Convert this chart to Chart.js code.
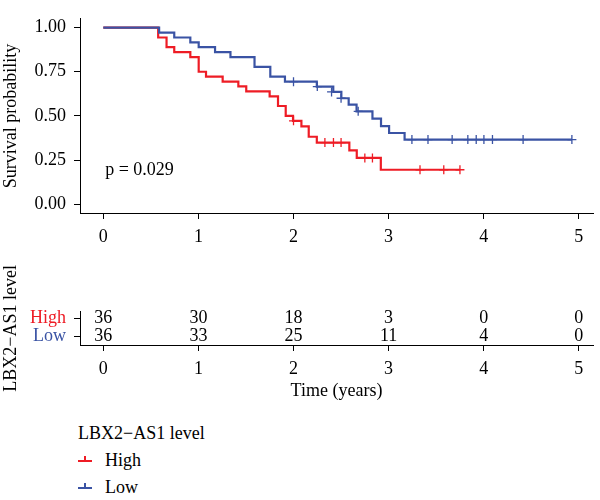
<!DOCTYPE html>
<html>
<head>
<meta charset="utf-8">
<script src="https://cdn.jsdelivr.net/npm/chart.js@4.4.1/dist/chart.umd.min.js"></script>
<style>
  html, body { margin: 0; padding: 0; background: #fff; }
  #wrap { position: relative; width: 600px; height: 500px; overflow: hidden; background: #fff;
          font-family: 'Liberation Serif', 'DejaVu Serif', serif; color: #000; }
  #c1 { position: absolute; left: 0; top: 0; }
  #c2 { position: absolute; left: 0; top: 245px; }
  .lg { position: absolute; font-size: 18px; line-height: 22px; white-space: nowrap; }
  .key { position: absolute; }
</style>
</head>
<body>
<div id="wrap">
  <canvas id="c1" width="600" height="250" style="width:600px;height:250px"></canvas>
  <canvas id="c2" width="600" height="170" style="width:600px;height:170px"></canvas>
  <div id="legend"></div>
</div>
<script>
// ---------------- data ----------------
const groupNames = ["High", "Low"];
const legendTitle = "LBX2−AS1 level";
const pValueText = "p = 0.029";

// Kaplan–Meier steps: time (years) and survival after that time
const lowTimes  = [0, 0.587, 0.746, 0.915, 1.003, 1.175, 1.337, 1.59, 1.756, 1.91, 2.245, 2.418, 2.503, 2.58, 2.663, 2.83, 2.92, 3.005, 3.168, 4.927];
const lowSurv   = [1, 0.972, 0.944, 0.917, 0.889, 0.861, 0.833, 0.778, 0.722, 0.694, 0.666, 0.636, 0.600, 0.564, 0.526, 0.484, 0.442, 0.403, 0.366, 0.366];
const highTimes = [0, 0.577, 0.665, 0.746, 0.915, 1.003, 1.08, 1.255, 1.42, 1.503, 1.749, 1.837, 1.918, 1.995, 2.083, 2.16, 2.245, 2.587, 2.665, 2.918, 3.75];
const highSurv  = [1, 0.944, 0.889, 0.861, 0.833, 0.75, 0.722, 0.694, 0.667, 0.639, 0.611, 0.556, 0.50, 0.472, 0.441, 0.382, 0.349, 0.305, 0.262, 0.195, 0.195];

// censoring marks
const lowCensorTimes  = [2.0, 2.25, 2.40, 2.50, 2.68, 3.245, 3.414, 3.668, 3.833, 3.921, 4.002, 4.092, 4.414, 4.927];
const lowCensorSurv   = [0.694, 0.666, 0.636, 0.600, 0.526, 0.366, 0.366, 0.366, 0.366, 0.366, 0.366, 0.366, 0.366, 0.366];
const highCensorTimes = [2.0, 2.33, 2.42, 2.50, 2.75, 2.83, 3.33, 3.58, 3.75];
const highCensorSurv  = [0.472, 0.349, 0.349, 0.349, 0.262, 0.262, 0.195, 0.195, 0.195];

// risk table
const riskTimes = [0, 1, 2, 3, 4, 5];
const riskHigh  = [36, 30, 18, 3, 0, 0];
const riskLow   = [36, 33, 25, 11, 4, 0];

// ticks
const xTickValues = [0, 1, 2, 3, 4, 5];
const xTickLabels = ["0", "1", "2", "3", "4", "5"];
const yTickValues = [0, 0.25, 0.5, 0.75, 1];
const yTickLabels = ["0.00", "0.25", "0.50", "0.75", "1.00"];

// ---------------- styling ----------------
const RED = '#EE1C25';
const BLUE = '#3A53A4';
const FONT = "'Liberation Serif', 'DejaVu Serif', serif";
const FS = 18;
Chart.defaults.font.family = FONT;
Chart.defaults.font.size = FS;
Chart.defaults.color = '#000';

const X_MIN = -0.245, X_MAX = 5.149;
const pValuePos = { x: 0.02, y: 0.19 };

const toXY = (xs, ys) => xs.map((x, i) => ({ x: x, y: ys[i] }));

const xScale = (heightPx, withTitle) => ({
  type: 'linear', min: X_MIN, max: X_MAX,
  afterBuildTicks: s => { s.ticks = xTickValues.map(v => ({ value: v })); },
  afterFit: s => { s.height = heightPx; },
  ticks: {
    autoSkip: false, maxRotation: 0, padding: 7, color: '#000',
    callback: v => { const i = xTickValues.indexOf(v); return i >= 0 ? xTickLabels[i] : ''; }
  },
  grid: { drawOnChartArea: false, drawTicks: true, tickLength: 6, color: '#000', lineWidth: 1 },
  border: { display: true, color: '#000', width: 1 },
  title: withTitle ? { display: true, text: 'Time (years)', color: '#000', font: { size: FS }, padding: { top: 0, bottom: 13 } } : { display: false }
});

// ---------------- survival chart ----------------
const pvalPlugin = {
  id: 'pval',
  afterDatasetsDraw(chart) {
    const { ctx, scales: { x, y } } = chart;
    ctx.save();
    ctx.font = FS + 'px ' + FONT;
    ctx.fillStyle = '#000';
    ctx.textAlign = 'left';
    ctx.textBaseline = 'middle';
    ctx.fillText(pValueText, x.getPixelForValue(pValuePos.x), y.getPixelForValue(pValuePos.y));
    ctx.restore();
  }
};

const lineDs = (label, xs, ys, color, order) => ({
  label, data: toXY(xs, ys), showLine: true, stepped: 'before',
  borderColor: color, borderWidth: 2.2, pointRadius: 0, pointHoverRadius: 0, fill: false, order
});
const censorDs = (label, xs, ys, color) => ({
  label, data: toXY(xs, ys), showLine: false, pointStyle: 'cross',
  pointRadius: 4.5, pointHoverRadius: 4.5, pointBorderColor: color, pointBackgroundColor: color,
  pointBorderWidth: 1.3, borderColor: color, order: 0
});

new Chart(document.getElementById('c1'), {
  type: 'scatter',
  data: {
    datasets: [
      lineDs(groupNames[1], lowTimes, lowSurv, BLUE, 1),
      lineDs(groupNames[0], highTimes, highSurv, RED, 2),
      censorDs(groupNames[1] + ' censored', lowCensorTimes, lowCensorSurv, BLUE),
      censorDs(groupNames[0] + ' censored', highCensorTimes, highCensorSurv, RED)
    ]
  },
  options: {
    responsive: false, animation: false, events: [],
    layout: { padding: { top: 2, right: 7, left: 0, bottom: 0 } },
    plugins: { legend: { display: false }, tooltip: { enabled: false } },
    scales: {
      x: xScale(37, false),
      y: {
        type: 'linear', min: -0.05, max: 1.05,
        afterBuildTicks: s => { s.ticks = yTickValues.map(v => ({ value: v })); },
        afterFit: s => { s.width = 80; },
        ticks: {
          padding: 8, color: '#000',
          callback: v => { const i = yTickValues.indexOf(v); return i >= 0 ? yTickLabels[i] : ''; }
        },
        grid: { drawOnChartArea: false, drawTicks: true, tickLength: 6, color: '#000', lineWidth: 1 },
        border: { display: true, color: '#000', width: 1 },
        title: { display: true, text: 'Survival probability', color: '#000', font: { size: FS }, padding: 0 }
      }
    }
  },
  plugins: [pvalPlugin]
});

// ---------------- risk table ----------------
const riskPlugin = {
  id: 'riskText',
  afterDatasetsDraw(chart) {
    const { ctx, scales: { x, y } } = chart;
    ctx.save();
    ctx.font = FS + 'px ' + FONT;
    ctx.fillStyle = '#000';
    ctx.textAlign = 'center';
    ctx.textBaseline = 'middle';
    riskTimes.forEach((t, i) => {
      ctx.fillText(String(riskHigh[i]), x.getPixelForValue(t), y.getPixelForValue(2));
      ctx.fillText(String(riskLow[i]), x.getPixelForValue(t), y.getPixelForValue(1));
    });
    ctx.restore();
  }
};

new Chart(document.getElementById('c2'), {
  type: 'scatter',
  data: {
    datasets: [
      { label: groupNames[0], data: riskTimes.map(t => ({ x: t, y: 2 })), pointRadius: 0, pointHoverRadius: 0 },
      { label: groupNames[1], data: riskTimes.map(t => ({ x: t, y: 1 })), pointRadius: 0, pointHoverRadius: 0 }
    ]
  },
  options: {
    responsive: false, animation: false, events: [],
    layout: { padding: { top: 66.7, right: 7, left: 0, bottom: 0 } },
    plugins: { legend: { display: false }, tooltip: { enabled: false } },
    scales: {
      x: xScale(70, true),
      y: {
        type: 'linear', min: 0.5, max: 2.37,
        afterBuildTicks: s => { s.ticks = [1, 2].map(v => ({ value: v })); },
        afterFit: s => { s.width = 80; },
        ticks: {
          padding: 8,
          color: c => (c.tick && c.tick.value === 2) ? RED : BLUE,
          callback: v => v === 2 ? groupNames[0] : (v === 1 ? groupNames[1] : '')
        },
        grid: { drawOnChartArea: false, drawTicks: true, tickLength: 6, color: '#000', lineWidth: 1 },
        border: { display: true, color: '#000', width: 1 },
        title: { display: true, text: legendTitle, color: '#000', font: { size: FS }, padding: 0 }
      }
    }
  },
  plugins: [riskPlugin]
});

// ---------------- legend ----------------
(function buildLegend() {
  const lg = document.getElementById('legend');
  const add = (html) => { lg.insertAdjacentHTML('beforeend', html); };
  add('<div class="lg" style="left:78px;top:422px;">' + legendTitle + '</div>');
  const rows = [{ name: groupNames[0], color: RED, cy: 460 }, { name: groupNames[1], color: BLUE, cy: 487 }];
  rows.forEach(r => {
    add('<div class="key" style="left:78px;top:' + (r.cy) + 'px;width:14px;height:2px;background:' + r.color + ';"></div>');
    add('<div class="key" style="left:84.3px;top:' + (r.cy - 4) + 'px;width:1.4px;height:6px;background:' + r.color + ';"></div>');
    add('<div class="lg" style="left:105px;top:' + (r.cy - 11) + 'px;">' + r.name + '</div>');
  });
})();
</script>
</body>
</html>
